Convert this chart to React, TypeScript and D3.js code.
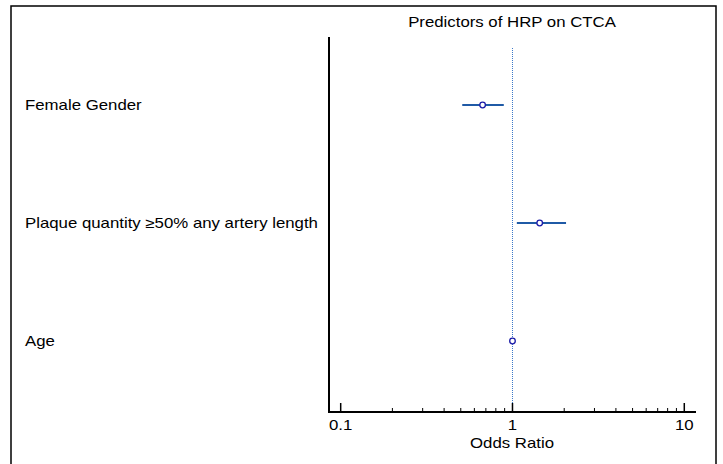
import React, { useEffect, useRef } from "react";
import * as d3 from "d3";

const categories = ["Female Gender", "Plaque quantity \u226550% any artery length", "Age"];
const oddsRatios = [0.67, 1.44, 1.0];
const ciLower = [0.51, 1.06, 0.995];
const ciUpper = [0.89, 2.05, 1.005];
const tickValues = [0.1, 1, 10];
const tickLabels = ["0.1", "1", "10"];
const title = "Predictors of HRP on CTCA";
const xLabel = "Odds Ratio";

const W = 723;
const H = 464;
const FONT = "'Liberation Sans', Arial, sans-serif";
const FS = 14;
const SX = 1.2;

export default function App() {
  const ref = useRef<SVGSVGElement>(null);
  useEffect(() => {
    const svg = d3.select(ref.current);
    svg.selectAll("*").remove();
    const left = 329, right = 696, top = 37, bottom = 412;
    const x = d3.scaleLog().domain([0.0855, 11.7]).range([left, right]);
    const y = d3.scalePoint<string>().domain(categories).range([38, 408]).padding(0.568);

    const txt = (tx: number, ty: number, s: string, anchor = "start") =>
      svg.append("text").attr("transform", `translate(${tx},${ty}) scale(${SX},1)`)
        .attr("text-anchor", anchor).attr("font-family", FONT).attr("font-size", FS).text(s);

    svg.append("rect").attr("x", 11).attr("y", 6).attr("width", 705).attr("height", 470)
      .attr("fill", "white").attr("stroke", "#000").attr("stroke-width", 1.5);

    txt(512, 27, title, "middle");

    // reference line at OR = 1
    svg.append("line").attr("x1", x(1)).attr("x2", x(1)).attr("y1", 48).attr("y2", bottom)
      .attr("stroke", "#3a78c8").attr("stroke-width", 1).attr("stroke-dasharray", "1,1");

    // minor + major ticks
    const minor: number[] = [];
    [0.1, 1].forEach((d) => { for (let k = 2; k <= 9; k++) minor.push(d * k); });
    svg.selectAll(".minor").data(minor).enter().append("line")
      .attr("x1", (d) => x(d)).attr("x2", (d) => x(d)).attr("y1", bottom).attr("y2", bottom - 4)
      .attr("stroke", "#000").attr("stroke-width", 1);
    svg.selectAll(".major").data(tickValues).enter().append("line")
      .attr("x1", (d) => x(d)).attr("x2", (d) => x(d)).attr("y1", bottom).attr("y2", bottom - 9)
      .attr("stroke", "#000").attr("stroke-width", 1.5);
    tickValues.forEach((d, i) => txt(x(d), 430, tickLabels[i], "middle"));

    // axes
    svg.append("line").attr("x1", left).attr("x2", left).attr("y1", top).attr("y2", bottom + 1)
      .attr("stroke", "#000").attr("stroke-width", 2);
    svg.append("line").attr("x1", left - 1).attr("x2", right).attr("y1", bottom).attr("y2", bottom)
      .attr("stroke", "#000").attr("stroke-width", 2);

    txt(512, 448, xLabel, "middle");

    // labels
    categories.forEach((d) => txt(25, (y(d) as number) + 5, d));

    // CIs
    svg.selectAll(".ci").data(categories).enter().append("line")
      .attr("x1", (d, i) => x(ciLower[i])).attr("x2", (d, i) => x(ciUpper[i]))
      .attr("y1", (d) => y(d) as number).attr("y2", (d) => y(d) as number)
      .attr("stroke", "#1f5aa6").attr("stroke-width", 2);
    svg.selectAll(".pt").data(categories).enter().append("circle")
      .attr("cx", (d, i) => x(oddsRatios[i])).attr("cy", (d) => y(d) as number).attr("r", 2.8)
      .attr("fill", "white").attr("stroke", "#1c1ca8").attr("stroke-width", 1.3);
  }, []);
  return (
    <svg ref={ref} width={W} height={H}
      style={{ position: "absolute", left: 0, top: 0, background: "white" }} />
  );
}
